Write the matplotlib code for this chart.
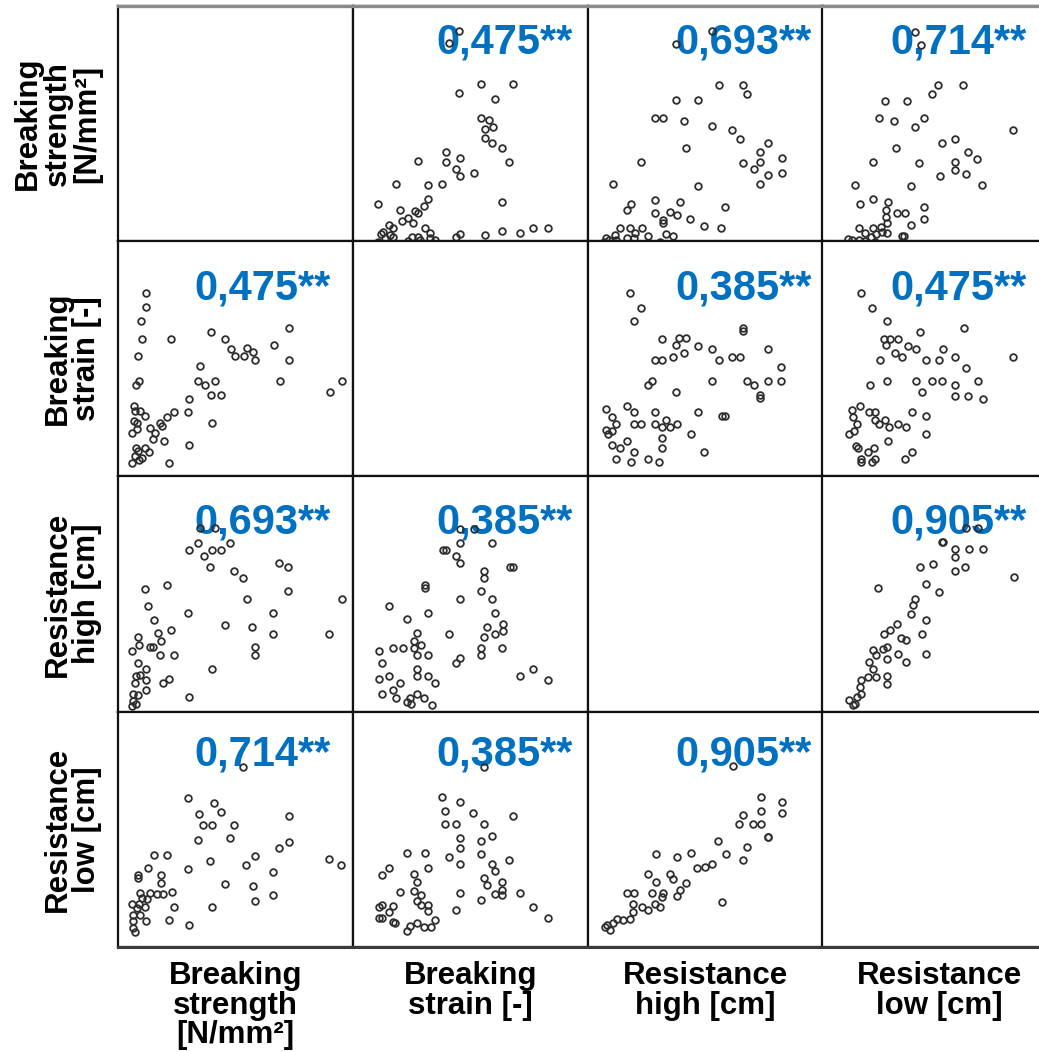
import matplotlib
matplotlib.use("Agg")
import matplotlib.pyplot as plt
from matplotlib.lines import Line2D

# ---------------- data (arbitrary units, no ticks on the original) ----------------
variables = ["S", "E", "H", "L"]
row_labels = ["Breaking\nstrength\n[N/mm²]", "Breaking\nstrain [-]",
              "Resistance\nhigh [cm]", "Resistance\nlow [cm]"]
col_labels = ["Breaking\nstrength\n[N/mm²]", "Breaking\nstrain [-]",
              "Resistance\nhigh [cm]", "Resistance\nlow [cm]"]

corr_labels = [
    [None, "0,475**", "0,693**", "0,714**"],
    ["0,475**", None, "0,385**", "0,475**"],
    ["0,693**", "0,385**", None, "0,905**"],
    ["0,714**", "0,385**", "0,905**", None],
]

# Breaking strength vs breaking strain
S_a = [11.8, 11.8, 9.7, 10.4, 22.6, 39.5, 45.7, 72.9, 8.5, 47.9, 49.7, 53.6, 54.7, 57.5,
       58.5, 66.4, 72.9, 34.8, 9.0, 7.7, 33.9, 36.9, 41.2, 69.1, 95.4, 90.2, 30.2, 39.7,
       44.0, 6.6, 7.3, 9.4, 11.5, 6.6, 8.0, 29.8, 23.9, 20.8, 17.9, 13.7, 18.7, 40.0,
       6.1, 8.0, 15.8, 14.8, 19.4, 30.2, 7.7, 8.7, 11.5, 13.0, 7.3, 9.1, 5.8, 21.8, 10.1]
E_a = [83.1, 76.8, 71.1, 63.5, 63.5, 66.5, 63.5, 68.0, 56.1, 59.1, 56.1, 56.1, 59.4, 57.7,
       54.6, 60.6, 54.6, 51.7, 45.5, 43.9, 45.5, 44.0, 45.5, 45.3, 45.3, 40.9, 38.0, 39.5,
       39.5, 34.9, 32.8, 32.8, 30.6, 28.5, 27.8, 32.1, 32.1, 30.2, 27.8, 25.7, 26.4, 27.5,
       23.5, 24.9, 23.5, 21.0, 20.0, 18.4, 17.1, 15.7, 17.1, 15.3, 13.5, 12.1, 10.7, 10.7, 12.8]

# Breaking strength vs resistance high
S_b = [34.9, 41.3, 34.2, 30.2, 39.9, 43.8, 47.7, 36.7, 39.3, 68.5, 72.5, 49.4, 53.3, 11.5,
       20.7, 72.5, 54.8, 95.2, 12.6, 29.6, 66.1, 15.5, 45.5, 57.2, 17.2, 22.6, 66.1, 89.9,
       8.4, 18.3, 58.3, 58.3, 5.8, 8.9, 13.6, 15.0, 18.0, 23.7, 8.4, 11.8, 39.9, 7.5, 9.4,
       11.8, 7.2, 19.3, 21.7, 11.8, 6.5, 8.7, 30.2, 6.5, 7.5, 5.8]
H_b = [82.4, 82.4, 76.4, 73.3, 73.3, 73.3, 76.4, 70.7, 65.9, 67.6, 65.9, 64.5, 61.4, 56.8,
       58.5, 55.7, 52.6, 52.6, 49.5, 46.6, 46.6, 43.5, 41.5, 40.7, 37.8, 39.3, 37.5, 37.5,
       36.1, 34.7, 31.9, 28.5, 30.5, 33.0, 31.9, 31.9, 28.5, 28.5, 25.4, 22.8, 22.5, 19.7,
       20.0, 18.0, 16.6, 16.6, 18.3, 13.6, 11.9, 11.5, 10.6, 9.0, 7.6, 6.9]

# Breaking strain vs resistance high
E_c = [45.5, 51.5, 45.5, 59.0, 38.4, 39.6, 43.8, 45.5, 55.7, 55.7, 66.8, 67.9, 30.6, 30.6,
       54.3, 45.5, 59.0, 15.5, 32.1, 60.4, 23.1, 57.2, 63.7, 63.7, 60.6, 40.7, 55.7, 27.4,
       26.0, 28.9, 16.9, 21.4, 26.0, 54.3, 63.4, 10.9, 27.4, 32.1, 54.3, 45.5, 43.8, 12.3,
       27.4, 76.7, 15.5, 27.4, 32.1, 10.9, 20.0, 35.0, 71.1, 82.8, 16.9, 12.3, 27.4, 18.3,
       24.3, 30.2, 23.1, 33.5, 24.5]
H_c = [82.1, 82.1, 76.4, 76.4, 73.3, 73.3, 70.7, 67.6, 64.5, 61.4, 65.9, 65.9, 58.5, 57.1,
       55.7, 52.6, 52.6, 49.5, 46.6, 46.6, 43.8, 40.7, 41.7, 38.8, 37.4, 37.5, 36.1, 37.8,
       34.7, 33.0, 31.6, 31.6, 31.6, 31.6, 31.6, 30.2, 28.5, 28.5, 28.5, 27.3, 25.4, 25.4,
       22.5, 22.5, 19.7, 19.7, 19.7, 18.3, 16.6, 16.6, 19.7, 18.0, 13.7, 12.0, 12.0, 10.3,
       10.3, 10.3, 8.6, 7.5, 7.6]

# Breaking strain vs resistance low
E_d = [55.7, 37.9, 45.5, 39.3, 51.2, 67.9, 39.3, 43.8, 55.7, 45.5, 45.5, 54.3, 59.0, 23.1,
       30.5, 40.7, 54.3, 45.5, 66.2, 59.0, 60.4, 15.5, 12.3, 26.0, 32.1, 27.4, 55.7, 57.2,
       63.4, 63.4, 63.4, 60.6, 71.1, 45.5, 54.3, 43.8, 20.0, 26.0, 28.8, 27.4, 28.8, 32.1,
       32.1, 10.9, 12.3, 16.9, 15.2, 10.9, 12.3, 16.9, 17.7, 24.3, 27.4, 30.2, 33.3, 35.0,
       23.1, 76.7, 82.8]
L_d = [81.2, 68.5, 66.2, 62.3, 61.4, 60.5, 56.8, 56.8, 56.8, 50.9, 46.9, 49.7, 51.7, 44.4,
       44.4, 42.7, 44.1, 39.8, 41.5, 39.8, 36.7, 38.1, 35.3, 35.6, 38.1, 32.4, 34.1, 31.0,
       32.2, 29.0, 26.5, 27.3, 27.6, 27.6, 24.5, 20.5, 27.9, 28.5, 26.8, 24.2, 22.5, 22.5,
       20.0, 21.4, 22.5, 22.0, 19.4, 16.8, 16.8, 15.4, 14.6, 13.7, 14.9, 13.2, 12.9, 16.0,
       11.5, 21.4, 16.8]

# Breaking strength vs resistance low
S_e = [53.3, 29.9, 41.0, 43.8, 34.6, 36.3, 39.9, 49.5, 47.7, 33.9, 72.6, 72.6, 68.7, 58.4,
       54.5, 65.8, 15.5, 20.7, 12.9, 29.6, 39.1, 8.4, 8.4, 18.2, 18.2, 45.5, 57.3, 65.8,
       58.4, 9.4, 13.6, 16.5, 19.3, 22.8, 10.1, 12.2, 5.8, 9.1, 7.9, 11.5, 23.8, 39.9, 6.2,
       9.4, 11.8, 6.5, 21.8, 30.1, 6.5, 7.1, 89.6, 95.0]
L_e = [81.1, 68.0, 65.9, 62.1, 61.2, 56.4, 56.4, 56.4, 51.0, 50.3, 60.1, 49.3, 46.6, 43.5,
       39.4, 36.3, 43.6, 43.6, 38.0, 37.8, 41.1, 35.1, 34.0, 35.4, 31.9, 31.5, 30.5, 26.9,
       24.1, 27.5, 27.6, 27.3, 27.2, 28.0, 25.5, 25.2, 22.7, 22.9, 21.0, 21.5, 21.8, 21.5,
       18.4, 18.4, 15.8, 15.6, 16.1, 14.1, 12.7, 11.0, 42.1, 39.4]

# Resistance high vs resistance low
H_f = [61.6, 73.5, 82.6, 82.6, 73.5, 66.1, 64.4, 70.4, 73.5, 76.7, 76.7, 55.5, 67.5, 58.6,
       66.1, 28.9, 37.7, 43.7, 46.2, 49.8, 52.6, 25.7, 28.9, 34.9, 36.0, 16.5, 19.6, 27.1,
       32.1, 39.1, 41.7, 37.7, 56.9, 19.3, 22.8, 25.7, 28.5, 30.6, 31.3, 19.3, 17.9, 15.0,
       12.2, 10.8, 7.9, 9.4, 7.2]
L_f = [81.5, 68.5, 66.3, 61.4, 62.4, 60.7, 56.8, 56.8, 56.8, 51.5, 51.2, 49.7, 47.2, 44.1,
       41.5, 44.1, 42.7, 44.4, 38.0, 38.7, 39.7, 35.6, 32.3, 35.6, 33.7, 27.6, 27.6, 27.6,
       27.6, 28.8, 31.9, 26.2, 23.8, 22.8, 21.7, 20.2, 22.8, 21.7, 25.9, 19.5, 16.7, 16.0,
       16.7, 14.9, 13.9, 11.7, 13.2]

pair_data = {
    ("S", "E"): (S_a, E_a),
    ("S", "H"): (S_b, H_b),
    ("E", "H"): (E_c, H_c),
    ("E", "L"): (E_d, L_d),
    ("S", "L"): (S_e, L_e),
    ("H", "L"): (H_f, L_f),
}

def get_pair(xv, yv):
    if (xv, yv) in pair_data:
        return pair_data[(xv, yv)]
    b, a = pair_data[(yv, xv)]
    return a, b

# ---------------- layout / style ----------------
W, H = 1039, 1052
fig = plt.figure(figsize=(W / 100, H / 100), dpi=100)
FONT = "Liberation Sans"
BLUE = "#0070C0"

col_left = [118, 353, 588, 822]
row_top = [6, 241, 476.5, 712]
pw, ph = 235, 235.25
xlims = {"S": (0, 100), "E": (0, 100), "H": (0, 100), "L": (0, 100)}
ylims = {"S": (6, 106), "E": (5, 105), "H": (4.5, 104.5), "L": (4.5, 104.5)}
text_right = [331, 573, 812, 1027]
text_base = [53, 300, 533, 766]

for i, yv in enumerate(variables):
    for j, xv in enumerate(variables):
        ax = fig.add_axes([col_left[j] / W, 1 - (row_top[i] + ph) / H, pw / W, ph / H])
        ax.set_xlim(*xlims[xv])
        ax.set_ylim(*ylims[yv])
        ax.set_xticks([])
        ax.set_yticks([])
        for sp in ax.spines.values():
            sp.set_linewidth(1.6)
            sp.set_color("#111111")
        if i == j:
            continue
        x, y = get_pair(xv, yv)
        ax.plot(x, y, "o", ms=4.8, mfc="none", mec="#2e2e2e", mew=1.3,
                clip_on=False, zorder=3)
        ax.text(text_right[j] / W, 1 - text_base[i] / H, corr_labels[i][j],
                transform=fig.transFigure, ha="right", va="baseline",
                fontsize=30, fontweight="bold", color=BLUE, family=FONT, zorder=1)

# outer top / bottom frame lines
fig.add_artist(Line2D([118 / W, 1], [1 - 6 / H, 1 - 6 / H], color="#8a8a8a", lw=2.4,
                      transform=fig.transFigure))
fig.add_artist(Line2D([118 / W, 1], [1 - 947 / H, 1 - 947 / H], color="#3a3a3a", lw=2.2,
                      transform=fig.transFigure))

for i, lab in enumerate(row_labels):
    fig.text(102 / W, 1 - (row_top[i] + ph / 2) / H, lab, rotation=90,
             ha="right", va="center", multialignment="center",
             fontsize=22.5, fontweight="bold", family=FONT, linespacing=0.98)

for j, lab in enumerate(col_labels):
    fig.text((col_left[j] + pw / 2) / W, 1 - 961 / H, lab,
             ha="center", va="top", multialignment="center",
             fontsize=22.5, fontweight="bold", family=FONT, linespacing=0.98)

fig.savefig("out.png", dpi=100)
